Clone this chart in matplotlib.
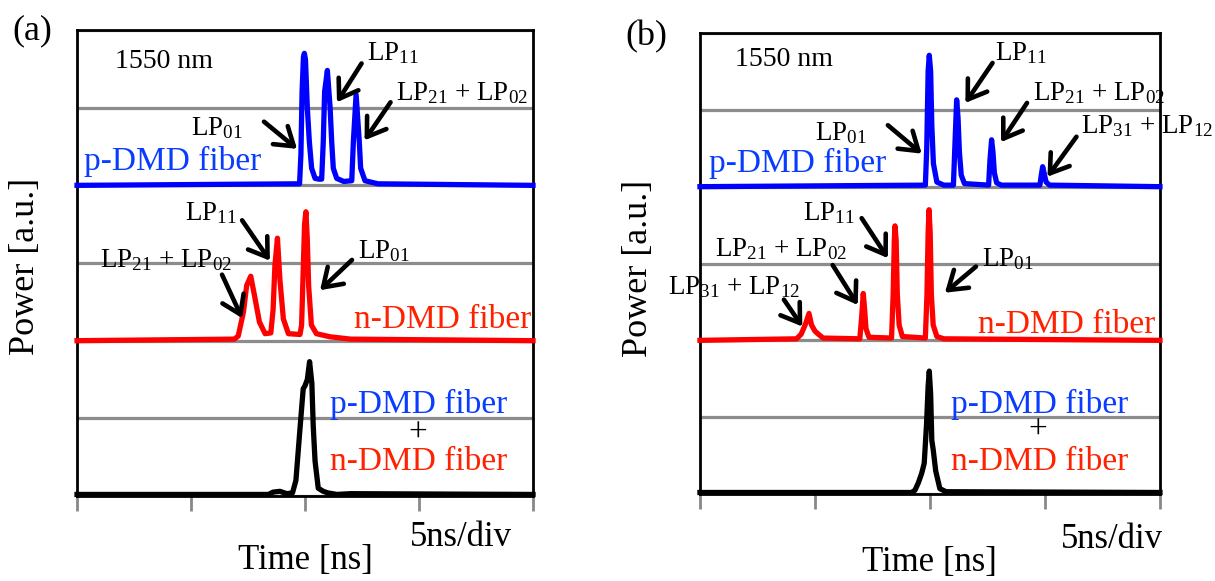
import matplotlib
matplotlib.use("Agg")
import matplotlib.pyplot as plt

plt.rcParams['font.family'] = ['Liberation Serif', 'DejaVu Serif']
plt.rcParams['mathtext.fontset'] = 'custom'
plt.rcParams['mathtext.rm'] = 'Liberation Serif'
plt.rcParams['mathtext.it'] = 'Liberation Serif:italic'

# ----- data (time in ns, power in a.u. above each trace's baseline)
# (a) p-DMD fiber
t_a_p = [0, 9.76, 9.82, 9.87, 9.93, 9.97, 10.02, 10.1, 10.19, 10.29, 10.44, 10.6, 10.73, 10.8, 10.86,
         10.98, 11.1, 11.17, 11.24, 11.39, 11.7, 12.05, 12.12, 12.24, 12.38, 12.44, 12.63, 13.2, 20]
p_a_p = [0, 0.02, 0.4, 1.2, 1.65, 1.70, 1.62, 1.0, 0.56, 0.22, 0.09, 0.08, 0.08, 0.56, 1.21,
         1.48, 1.0, 0.56, 0.22, 0.09, 0.05, 0.06, 0.56, 1.17, 0.56, 0.22, 0.06, 0.02, 0]
# (a) n-DMD fiber
t_a_n = [0, 6.9, 7.07, 7.3, 7.44, 7.62, 7.81, 8.0, 8.25, 8.5, 8.6, 8.68, 8.79, 8.9, 9.05, 9.27,
         9.78, 9.85, 9.92, 9.98, 10.04, 10.1, 10.16, 10.28, 10.5, 11.1, 12.0, 20]
p_a_n = [0, 0.02, 0.06, 0.37, 0.71, 0.83, 0.54, 0.24, 0.09, 0.1, 0.4, 0.97, 1.32, 0.78, 0.28, 0.09,
         0.08, 0.2, 0.9, 1.5, 1.66, 1.3, 0.7, 0.2, 0.09, 0.05, 0.02, 0]
# (a) p-DMD + n-DMD
t_a_pn = [0, 8.4, 8.6, 8.9, 9.2, 9.45, 9.6, 9.78, 9.92, 10.0, 10.1, 10.2, 10.3, 10.36, 10.44,
          10.58, 10.8, 11.0, 11.4, 12.0, 20]
p_a_pn = [0.02, 0.02, 0.05, 0.06, 0.03, 0.04, 0.2, 0.87, 1.38, 1.42, 1.5, 1.73, 1.45, 0.9, 0.45,
          0.1, 0.06, 0.04, 0.02, 0.03, 0.02]

# (b) p-DMD fiber
t_b_p = [0, 9.8, 9.86, 9.92, 9.97, 10.03, 10.08, 10.15, 10.3, 10.6, 11.02, 11.08, 11.16, 11.22,
         11.28, 11.36, 11.5, 12.55, 12.61, 12.68, 12.74, 12.8, 12.9, 13.1, 14.78, 14.84, 14.9,
         14.96, 15.05, 15.2, 20]
p_b_p = [0, 0.02, 0.5, 1.5, 1.71, 1.5, 0.8, 0.3, 0.06, 0.02, 0.02, 0.5, 1.13, 0.9,
         0.45, 0.15, 0.04, 0.02, 0.35, 0.61, 0.45, 0.18, 0.05, 0.02, 0.02, 0.15, 0.26,
         0.18, 0.06, 0.02, 0]
# (b) n-DMD fiber
t_b_n = [0, 4.2, 4.4, 4.6, 4.74, 4.85, 5.0, 5.15, 5.35, 6.95, 7.03, 7.1, 7.16, 7.22, 7.35,
         8.33, 8.4, 8.45, 8.48, 8.53, 8.58, 8.66, 8.8, 9.8, 9.87, 9.92, 9.96, 10.01, 10.06,
         10.14, 10.3, 10.6, 20]
p_b_n = [0, 0.02, 0.08, 0.22, 0.35, 0.2, 0.12, 0.08, 0.03, 0.02, 0.3, 0.61, 0.4, 0.15, 0.04,
         0.03, 0.6, 1.3, 1.49, 1.3, 0.6, 0.2, 0.05, 0.03, 0.6, 1.4, 1.70, 1.4, 0.6,
         0.2, 0.05, 0.02, 0]
# (b) p-DMD + n-DMD
t_b_pn = [0, 9.2, 9.35, 9.5, 9.64, 9.75, 9.85, 9.92, 9.97, 10.03, 10.08, 10.14, 10.25, 10.43, 10.7, 20]
p_b_pn = [0.02, 0.02, 0.05, 0.15, 0.27, 0.4, 0.9, 1.4, 1.6, 1.3, 0.7, 0.58, 0.3, 0.07, 0.03, 0.02]

x_ticks = [0, 5, 10, 15, 20]
offsets = {'p': 4, 'n': 2, 'pn': 0}

BLUE = '#0000ff'
RED = '#ff0000'
TBLUE = '#0a3cff'
TRED = '#ff2200'


def arrow(ax, tail, head):
    ax.annotate('', xy=head, xytext=tail, annotation_clip=False,
                arrowprops=dict(arrowstyle='->,head_length=0.45,head_width=0.3', lw=3.3,
                                color='black', mutation_scale=28, shrinkA=0, shrinkB=0))


def setup(ax):
    ax.set_xlim(0, 20)
    ax.set_ylim(0, 6)
    ax.set_xticks(x_ticks)
    ax.set_yticks(range(0, 7))
    ax.set_xticklabels([])
    ax.set_yticklabels([])
    ax.tick_params(axis='y', length=0)
    ax.tick_params(axis='x', direction='out', length=11, width=2, color='#888888')
    ax.yaxis.grid(True, color='#8c8c8c', lw=2.3)
    ax.set_axisbelow(True)
    for s in ax.spines.values():
        s.set_linewidth(2)
        s.set_color('black')


fig = plt.figure(figsize=(12.15, 5.81), dpi=100)
ax1 = fig.add_axes([0.0634, 0.1463, 0.3753, 0.802])
ax2 = fig.add_axes([0.5761, 0.1497, 0.3786, 0.7935])

LW = 3.8
for ax, tp, pp, tn, pn_, tpn, ppn in [(ax1, t_a_p, p_a_p, t_a_n, p_a_n, t_a_pn, p_a_pn),
                                      (ax2, t_b_p, p_b_p, t_b_n, p_b_n, t_b_pn, p_b_pn)]:
    setup(ax)
    ax.plot(tp, [v + offsets['p'] for v in pp], color=BLUE, lw=LW, clip_on=False, zorder=3)
    ax.plot(tn, [v + offsets['n'] for v in pn_], color=RED, lw=LW, clip_on=False, zorder=3)
    ax.plot(tpn, [v + offsets['pn'] for v in ppn], color='black', lw=LW, clip_on=False, zorder=3)

FS = 19.5
BIG = 24

# ----- panel (a) labels
ax1.text(1.67, 5.6, '1550 nm', fontsize=20, va='center')
ax1.text(12.72, 5.61, r'LP$_{11}$', fontsize=FS)
ax1.text(14.0, 5.10, r'LP$_{21}$ + LP$_{02}$', fontsize=FS)
ax1.text(5.0, 4.65, r'LP$_{01}$', fontsize=FS)
ax1.text(0.31, 4.2, 'p-DMD fiber', fontsize=BIG, color=TBLUE)
arrow(ax1, (12.48, 5.57), (11.4, 5.07))
arrow(ax1, (13.75, 5.07), (12.61, 4.58))
arrow(ax1, (8.2, 4.82), (9.65, 4.47))

ax1.text(4.74, 3.55, r'LP$_{11}$', fontsize=FS)
ax1.text(1.0, 2.95, r'LP$_{21}$ + LP$_{02}$', fontsize=FS)
ax1.text(12.32, 3.06, r'LP$_{01}$', fontsize=FS)
ax1.text(12.15, 2.16, 'n-DMD fiber', fontsize=BIG, color=TRED)
arrow(ax1, (7.24, 3.55), (8.46, 3.03))
arrow(ax1, (12.06, 3.04), (10.66, 2.65))
arrow(ax1, (6.36, 2.85), (7.24, 2.29))

ax1.text(11.1, 1.07, 'p-DMD fiber', fontsize=BIG, color=TBLUE)
ax1.text(14.96, 0.81, '+', fontsize=BIG, ha='center', va='center')
ax1.text(11.1, 0.33, 'n-DMD fiber', fontsize=BIG, color=TRED)

# ----- panel (b) labels
ax2.text(1.52, 5.65, '1550 nm', fontsize=20, va='center')
ax2.text(12.83, 5.65, r'LP$_{11}$', fontsize=FS)
ax2.text(14.5, 5.13, r'LP$_{21}$ + LP$_{02}$', fontsize=FS, clip_on=False)
ax2.text(16.55, 4.70, r'LP$_{31}$ + LP$_{12}$', fontsize=FS, clip_on=False)
ax2.text(5.0, 4.61, r'LP$_{01}$', fontsize=FS)
ax2.text(0.39, 4.19, 'p-DMD fiber', fontsize=BIG, color=TBLUE)
arrow(ax2, (12.72, 5.61), (11.54, 5.09))
arrow(ax2, (14.22, 5.09), (13.09, 4.58))
arrow(ax2, (16.37, 4.65), (15.11, 4.13))
arrow(ax2, (8.17, 4.80), (9.64, 4.43))

ax2.text(4.48, 3.57, r'LP$_{11}$', fontsize=FS)
ax2.text(0.65, 3.10, r'LP$_{21}$ + LP$_{02}$', fontsize=FS)
ax2.text(12.26, 2.97, r'LP$_{01}$', fontsize=FS)
ax2.text(-1.39, 2.60, r'LP$_{31}$ + LP$_{12}$', fontsize=FS, clip_on=False)
ax2.text(12.09, 2.10, 'n-DMD fiber', fontsize=BIG, color=TRED)
arrow(ax2, (7.03, 3.59), (8.17, 3.07))
arrow(ax2, (5.77, 2.98), (6.86, 2.46))
arrow(ax2, (12.0, 2.96), (10.65, 2.62))
arrow(ax2, (3.65, 2.53), (4.45, 2.18))

ax2.text(10.91, 1.05, 'p-DMD fiber', fontsize=BIG, color=TBLUE)
ax2.text(14.7, 0.83, '+', fontsize=BIG, ha='center', va='center')
ax2.text(10.91, 0.31, 'n-DMD fiber', fontsize=BIG, color=TRED)

# ----- outer labels (figure pixel positions / size)
W, H = 1215, 581
def ftext(px, py, s, **kw):
    fig.text(px / W, 1 - py / H, s, ha='center', va='center', **kw)

ftext(32, 31, '(a)', fontsize=26)
ftext(646, 37, '(b)', fontsize=26)
ftext(26, 266, 'Power [a.u.]', fontsize=26, rotation=90)
ftext(638, 268, 'Power [a.u.]', fontsize=26, rotation=90)
ftext(305, 561, 'Time [ns]', fontsize=25)
ftext(929, 562, 'Time [ns]', fontsize=25)
ftext(461, 538, '5ns/div', fontsize=25)
ftext(1112, 540, '5ns/div', fontsize=25)

fig.savefig('out.png', dpi=100)
